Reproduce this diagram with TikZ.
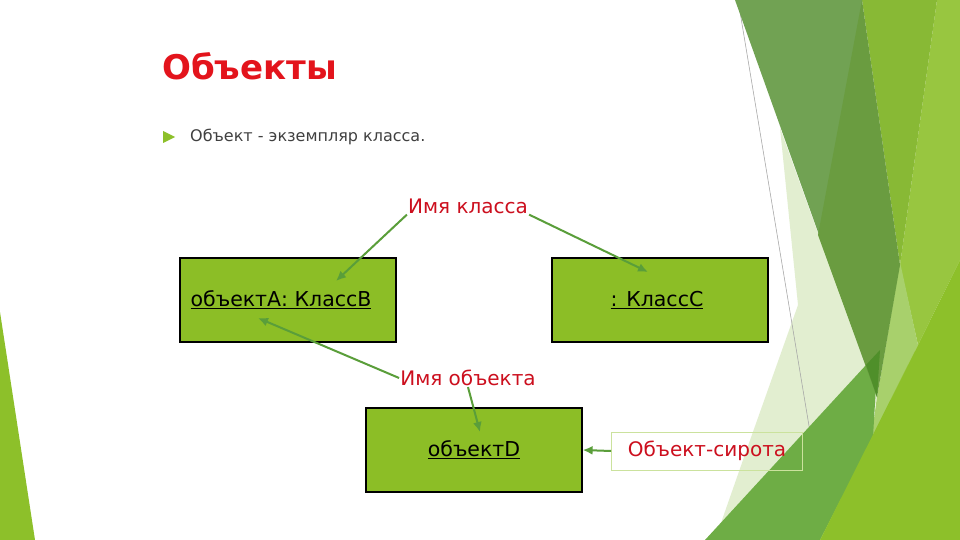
\documentclass[tikz,border=0pt]{standalone}
\usepackage{fontspec}
\setmainfont{DejaVu Sans}
\usetikzlibrary{arrows.meta, positioning}

\definecolor{leafgreen}{HTML}{8CBE26}
\definecolor{limegreen}{HTML}{8DC02A}
\definecolor{lightgreen}{HTML}{98C640}
\definecolor{brightgreen}{HTML}{88B935}
\definecolor{mossgreen}{HTML}{71A253}
\definecolor{darkmoss}{HTML}{6A9C40}
\definecolor{deepmoss}{HTML}{4F8F2A}
\definecolor{palegreen}{HTML}{E2EED0}
\definecolor{palelime}{HTML}{A8D06C}
\definecolor{bandgreen}{HTML}{6EAD45}
\definecolor{arrowgreen}{HTML}{5A9E3A}
\definecolor{titlered}{HTML}{E3141C}
\definecolor{notered}{HTML}{CC0F1E}
\definecolor{bodygray}{HTML}{404040}

\begin{document}
\begin{tikzpicture}[x=1pt,y=-1pt]

\tikzset{objbox/.style = {draw=black, line width=1.2pt, fill=leafgreen, minimum width=216pt, minimum height=84pt, inner sep=0pt, font=\fontsize{20.5}{22}\selectfont}}
\tikzset{note/.style = {text=notered, inner sep=1pt, font=\fontsize{20}{24}\selectfont}}
\tikzset{pointer/.style = {draw=arrowgreen, line width=2pt, -{Latex[length=10pt,width=9pt]}}}

% page and background shapes
\fill[white] (0,0) rectangle (960,540);
\useasboundingbox (0,0) rectangle (960,540);
\fill[limegreen] (0,312) -- (35,540) -- (0,540) -- cycle;
\fill[palegreen] (780,128) -- (877,397) -- (850,540) -- (715,540) -- (743,460) -- (798,305) -- cycle;
\draw[gray!70, line width=0.6pt] (738,0) -- (828,540);
\fill[lightgreen] (937,0) -- (960,0) -- (960,260) -- (918,345) -- (900,265) -- cycle;
\fill[brightgreen] (862,0) -- (937,0) -- (900,265) -- cycle;
\fill[palelime] (900,262) -- (918,345) -- (871,440) -- (877,397) -- cycle;
\fill[bandgreen] (705,540) -- (878,352) -- (873,437) -- (820,540) -- cycle;
\fill[mossgreen] (735,0) -- (862,0) -- (877,397) -- cycle;
\fill[darkmoss] (862,0) -- (818,235) -- (877,397) -- (900,265) -- cycle;
\fill[deepmoss] (866,365) -- (880,350) -- (877,397) -- cycle;
\fill[limegreen] (820,540) -- (918,345) -- (960,260) -- (960,540) -- cycle;

% heading
\node[anchor=west, text=titlered, font=\bfseries\fontsize{34}{38}\selectfont, inner sep=0pt] (title) at (162,66) {Объекты};
\fill[limegreen] (163,131) -- (175,137) -- (163,143) -- cycle;
\node[anchor=west, text=bodygray, font=\fontsize{16}{20}\selectfont, inner sep=0pt] (def) at (190,137) {Объект - экземпляр класса.};

% objects
\node[objbox] (boxA) at (288,300) {\underline{объектА: КлассВ}\kern14pt};
\node[objbox] (boxC) at (660,300) {\underline{: КлассС}\kern6pt};
\node[objbox] (boxD) at (474,450) {\underline{объектD}};

% notes
\node[note] (clsname) at (468,206) {Имя класса};
\node[note] (objname) at (468,378) {Имя объекта};
\node[note, draw=leafgreen!45, line width=0.6pt, minimum width=191pt, minimum height=38pt] (orphan) at (707,451) {Объект-сирота};

\coordinate (tipA) at (336,281);
\coordinate (tipC) at (648,272);
\coordinate (tipB) at (258,318);
\coordinate (tipD) at (480,432);

% pointers
\draw[pointer] (clsname.south west) -- (tipA);
\draw[pointer] (clsname.south east) -- (tipC);
\draw[pointer] (objname.west) -- (tipB);
\draw[pointer] (objname.south) -- (tipD);
\draw[pointer] (orphan.west) -- (boxD.east);
\end{tikzpicture}
\end{document}
